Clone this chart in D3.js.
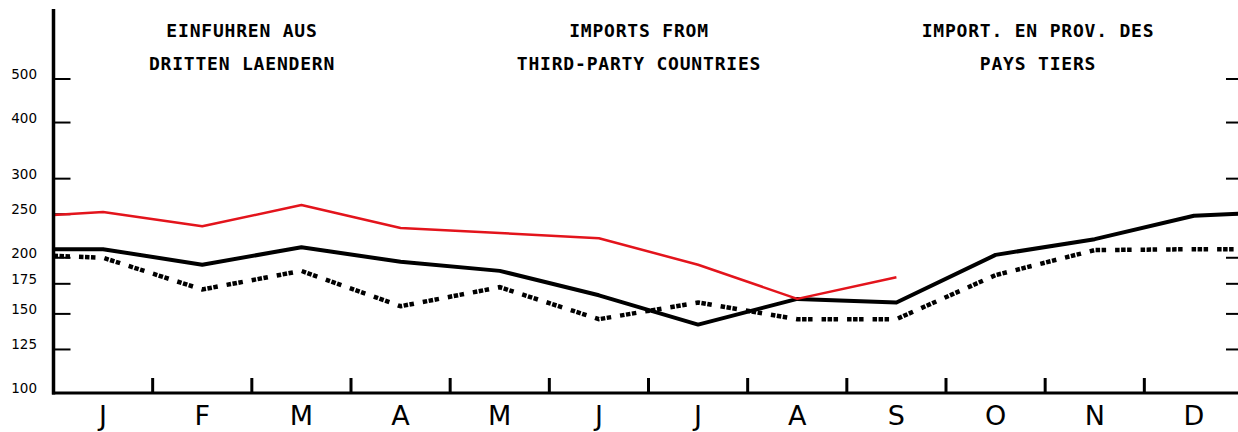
<!DOCTYPE html>
<html>
<head>
<meta charset="utf-8">
<script src="https://cdn.jsdelivr.net/npm/d3@7/dist/d3.min.js"></script>
<style>
  body { margin: 0; background: #fff; }
  svg { display: block; }
</style>
</head>
<body>
<div id="chart"></div>
<script>
// month labels on the x axis
var monthLabels = ["J", "F", "M", "A", "M", "J", "J", "A", "S", "O", "N", "D"];
// x positions of the readings: left edge, the 12 months, right edge
var xPos = [-0.5, 0, 1, 2, 3, 4, 5, 6, 7, 8, 9, 10, 11, 11.5];
// series (index values), null = no reading
var redSeries   = [249, 253, 235, 262, 233, 227, 221, 193, 162, 181, null, null, null, null];
var blackSeries = [209, 209, 193, 211, 196, 187, 165, 142, 162, 159, 203, 220, 248, 251];
var dotSeries   = [202, 200, 170, 187, 156, 172, 146, 159, 146, 146, 183, 208, 209, 209];
// y axis tick values
var yTicks = [100, 125, 150, 175, 200, 250, 300, 400, 500];
// titles in three languages
var titles = [
  ["EINFUHREN AUS", "DRITTEN LAENDERN"],
  ["IMPORTS FROM", "THIRD-PARTY COUNTRIES"],
  ["IMPORT. EN PROV. DES", "PAYS TIERS"]
];

var width = 1238, height = 432;
var svg = d3.select("#chart").append("svg")
    .attr("width", width)
    .attr("height", height);

var x = d3.scaleLinear().domain([-0.5, 11.5]).range([53.5, 1243.5]);
var y = d3.scaleLog().domain([100, 500]).range([393, 79]);

// titles
var titleX = [242, 639, 1038];
titles.forEach(function(t, i) {
    t.forEach(function(line, j) {
        svg.append("text")
            .attr("x", titleX[i])
            .attr("y", 37 + j * 33)
            .attr("text-anchor", "middle")
            .style("font-family", "'DejaVu Sans Mono', monospace")
            .style("font-weight", "bold")
            .style("font-size", "18px")
            .style("letter-spacing", "0.8px")
            .text(line);
    });
});

// y labels
svg.selectAll(".ylab")
    .data(yTicks)
    .enter().append("text")
    .attr("class", "ylab")
    .attr("x", 37)
    .attr("y", function(d) { return y(d); })
    .attr("text-anchor", "end")
    .style("font-family", "'DejaVu Sans', sans-serif")
    .style("font-size", "13.5px")
    .text(function(d) { return d; });

// left and right inner ticks
var tickVals = yTicks.filter(function(d) { return d != 100; });
svg.selectAll(".ltick")
    .data(tickVals)
    .enter().append("line")
    .attr("x1", 55).attr("x2", 70.5)
    .attr("y1", function(d) { return y(d); })
    .attr("y2", function(d) { return y(d); })
    .style("stroke", "#000").style("stroke-width", 2);
svg.selectAll(".rtick")
    .data(tickVals)
    .enter().append("line")
    .attr("x1", 1226).attr("x2", 1238)
    .attr("y1", function(d) { return y(d); })
    .attr("y2", function(d) { return y(d); })
    .style("stroke", "#000").style("stroke-width", 2);

// month separator ticks
var sepTicks = d3.range(0, 11).map(function(i) { return i + 0.5; });
svg.selectAll(".xtick")
    .data(sepTicks)
    .enter().append("line")
    .attr("x1", function(d) { return x(d); })
    .attr("x2", function(d) { return x(d); })
    .attr("y1", 378).attr("y2", 393)
    .style("stroke", "#000").style("stroke-width", 3);

// month labels
svg.selectAll(".mlab")
    .data(monthLabels)
    .enter().append("text")
    .attr("x", function(d, i) { return x(i); })
    .attr("y", 425)
    .attr("text-anchor", "middle")
    .style("font-family", "'DejaVu Sans', sans-serif")
    .style("font-size", "27px")
    .text(function(d) { return d; });

// lines
var line = d3.line()
    .defined(function(d) { return d[1] != null; })
    .x(function(d) { return x(d[0]); })
    .y(function(d) { return y(d[1]); });

function pairs(series) {
    return xPos.map(function(p, i) { return [p, series[i]]; });
}

svg.append("path")
    .datum(pairs(dotSeries))
    .attr("d", line)
    .style("fill", "none")
    .style("stroke", "#000")
    .style("stroke-width", 4.5)
    .style("stroke-dasharray", "4.5,1.5,4.5,1.5,4.5,9");

svg.append("path")
    .datum(pairs(blackSeries))
    .attr("d", line)
    .style("fill", "none")
    .style("stroke", "#000")
    .style("stroke-width", 4)
    .style("stroke-linejoin", "round");

svg.append("path")
    .datum(pairs(redSeries))
    .attr("d", line)
    .style("fill", "none")
    .style("stroke", "#e3141c")
    .style("stroke-width", 2.5)
    .style("stroke-linejoin", "round");

// axes frame
svg.append("line")
    .attr("x1", 53.5).attr("x2", 53.5)
    .attr("y1", 9).attr("y2", 394.5)
    .style("stroke", "#000").style("stroke-width", 3.5);
svg.append("line")
    .attr("x1", 52).attr("x2", 1238)
    .attr("y1", 393).attr("y2", 393)
    .style("stroke", "#000").style("stroke-width", 3);
</script>
</body>
</html>
